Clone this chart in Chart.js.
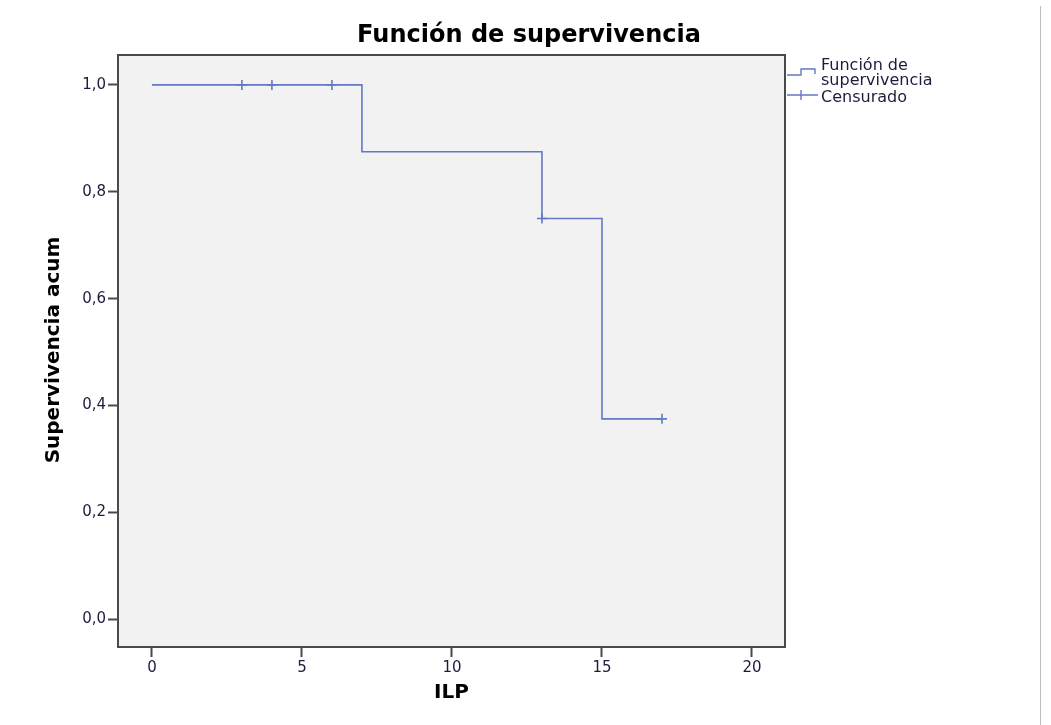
<!DOCTYPE html>
<html>
<head>
<meta charset="utf-8">
<script src="https://cdn.jsdelivr.net/npm/chart.js@4"></script>
<style>
  html, body { margin: 0; padding: 0; background: #fff; }
  #wrap { width: 1051px; height: 725px; position: relative; }
  #borde { position: absolute; left: 1040px; top: 6px; width: 1px; height: 719px; background: #bdbdbd; }
</style>
</head>
<body>
<div id="wrap"><canvas id="chart" width="1051" height="725"></canvas><div id="borde"></div></div>
<script>
// curva de supervivencia (Kaplan-Meier)
const tiempos = [0, 7, 13, 15, 17];
const supervivencia = [1.0, 0.875, 0.75, 0.375, 0.375];
// casos censurados
const censTiempos = [3, 4, 6, 13, 17];
const censValores = [1.0, 1.0, 1.0, 0.75, 0.375];
const xTicks = [0, 5, 10, 15, 20];
const yTicks = [0, 0.2, 0.4, 0.6, 0.8, 1.0];

const azul = "#6478c4";
const txt = "#1c1c3c";

const marco = {
  id: "marco",
  beforeDraw(chart) {
    const { ctx, chartArea: a } = chart;
    ctx.save();
    ctx.fillStyle = "#f2f2f2";
    ctx.fillRect(a.left, a.top, a.right - a.left, a.bottom - a.top);
    ctx.restore();
  },
  afterDraw(chart) {
    const { ctx, chartArea: a } = chart;
    ctx.save();
    ctx.strokeStyle = "#4a4a4a";
    ctx.lineWidth = 2;
    ctx.strokeRect(a.left, a.top, a.right - a.left, a.bottom - a.top);

    // titulos
    ctx.fillStyle = "#000";
    ctx.textAlign = "center";
    ctx.textBaseline = "middle";
    ctx.font = "bold 24px 'DejaVu Sans'";
    ctx.fillText("Función de supervivencia", 529, 36);
    ctx.font = "bold 20px 'DejaVu Sans'";
    ctx.fillText("ILP", (a.left + a.right) / 2, 693);
    ctx.translate(54, 350);
    ctx.rotate(-Math.PI / 2);
    ctx.fillText("Supervivencia acum", 0, 0);
    ctx.restore();

    // leyenda
    ctx.save();
    ctx.strokeStyle = azul;
    ctx.lineWidth = 1.4;
    ctx.beginPath();
    ctx.moveTo(787, 75); ctx.lineTo(801, 75); ctx.lineTo(801, 69); ctx.lineTo(815, 69); ctx.lineTo(815, 74);
    ctx.stroke();
    ctx.beginPath();
    ctx.moveTo(787, 95); ctx.lineTo(818, 95);
    ctx.moveTo(801, 90); ctx.lineTo(801, 100);
    ctx.stroke();
    ctx.fillStyle = txt;
    ctx.font = "16px 'DejaVu Sans'";
    ctx.textAlign = "left";
    ctx.textBaseline = "middle";
    ctx.fillText("Función de", 821, 66);
    ctx.fillText("supervivencia", 821, 81);
    ctx.fillText("Censurado", 821, 98);
    ctx.restore();
  }
};

new Chart(document.getElementById("chart"), {
  type: "scatter",
  data: {
    datasets: [
      {
        label: "Función de supervivencia",
        data: tiempos.map((t, i) => ({ x: t, y: supervivencia[i] })),
        showLine: true,
        stepped: "before",
        borderColor: azul,
        borderWidth: 1.6,
        pointRadius: 0,
        fill: false
      },
      {
        label: "Censurado",
        data: censTiempos.map((t, i) => ({ x: t, y: censValores[i] })),
        showLine: false,
        pointStyle: "cross",
        pointRadius: 5,
        borderColor: azul,
        borderWidth: 1.6
      }
    ]
  },
  options: {
    responsive: false,
    animation: false,
    layout: { padding: { top: 55, right: 266, left: 0, bottom: 0 } },
    plugins: { legend: { display: false }, tooltip: { enabled: false } },
    scales: {
      x: {
        type: "linear",
        min: -1.13,
        max: 21.1,
        afterBuildTicks: s => { s.ticks = xTicks.map(v => ({ value: v })); },
        afterFit: s => { s.height = 78; },
        grid: { drawOnChartArea: false, tickLength: 10, color: "#4a4a4a", tickWidth: 2 },
        border: { display: false },
        ticks: { color: txt, font: { family: "DejaVu Sans", size: 15 }, padding: 2 }
      },
      y: {
        type: "linear",
        min: -0.052,
        max: 1.056,
        afterBuildTicks: s => { s.ticks = yTicks.map(v => ({ value: v })); },
        afterFit: s => { s.width = 118; },
        grid: { drawOnChartArea: false, tickLength: 10, color: "#4a4a4a", tickWidth: 2 },
        border: { display: false },
        ticks: {
          color: txt,
          font: { family: "DejaVu Sans", size: 15 },
          padding: 2,
          callback: v => v.toFixed(1).replace(".", ",")
        }
      }
    }
  },
  plugins: [marco]
});
</script>
</body>
</html>
